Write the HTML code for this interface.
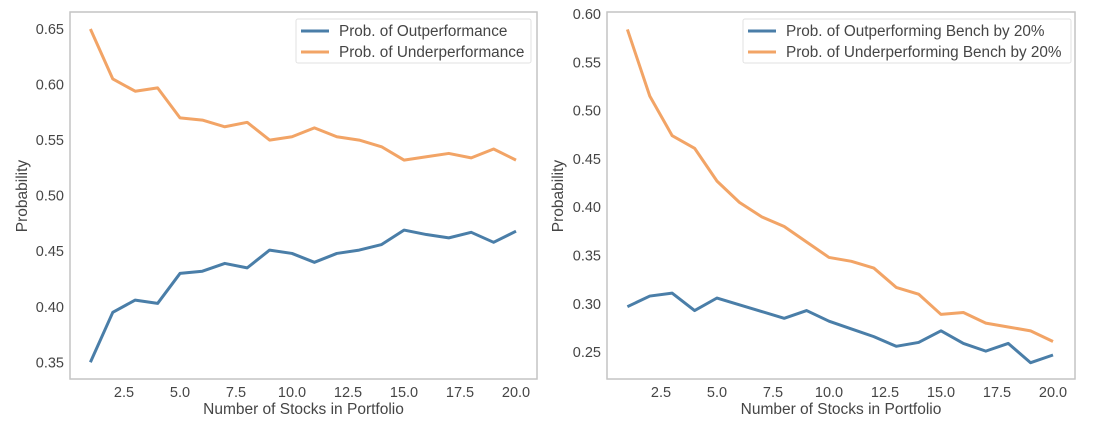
<!DOCTYPE html>
<html><head><meta charset="utf-8"><style>
body{margin:0;background:#fff;}
svg{display:block;font-family:"Liberation Sans","DejaVu Sans",sans-serif;}
</style></head><body>
<svg id="svg" width="1107" height="439"></svg>
<script>
const xs=[1,2,3,4,5,6,7,8,9,10,11,12,13,14,15,16,17,18,19,20];
const leftOut=[.350,.395,.406,.403,.430,.432,.439,.435,.451,.448,.440,.448,.451,.456,.469,.465,.462,.467,.458,.468];
const leftUnder=[.650,.605,.594,.597,.570,.568,.562,.566,.550,.553,.561,.553,.550,.544,.532,.535,.538,.534,.542,.532];
const rightOut=[.297,.308,.311,.293,.306,.299,.292,.285,.293,.282,.274,.266,.256,.260,.272,.259,.251,.259,.239,.247];
const rightUnder=[.584,.515,.474,.461,.427,.405,.390,.380,.364,.348,.344,.337,.317,.310,.289,.291,.280,.276,.272,.261];
const xTicks=[2.5,5.0,7.5,10.0,12.5,15.0,17.5,20.0];
const leftYTicks=[0.35,0.40,0.45,0.50,0.55,0.60,0.65];
const rightYTicks=[0.25,0.30,0.35,0.40,0.45,0.50,0.55,0.60];
const leftLegend=["Prob. of Outperformance","Prob. of Underperformance"];
const rightLegend=["Prob. of Outperforming Bench by 20%","Prob. of Underperforming Bench by 20%"];
const svg=document.getElementById('svg');
const NS='http://www.w3.org/2000/svg';
function mk(tag,attrs,parent){const e=document.createElementNS(NS,tag);for(const k in attrs)e.setAttribute(k,attrs[k]);(parent||svg).appendChild(e);return e;}
const BLUE='#4a7ea8',ORANGE='#f2a466',TXT='#454545';
function panel(p){
  const g=mk('g',{});
  
  
  const X=v=>p.x0+(v-2.5)*p.xu;
  const Y=v=>p.y0+(p.yRef-v)*p.yu;
  const box=mk('rect',{x:p.l,y:12,width:p.r-p.l,height:367,fill:'none',stroke:'#c4c4c4','stroke-width':1.5},g);
  
  
  xTicks.forEach(t=>{
    const tx=mk('text',{x:X(t),y:397,'text-anchor':'middle','font-size':14.5,fill:TXT},g);
    tx.textContent=t.toFixed(1);
    
    
  });
  p.yTicks.forEach(t=>{
    const tx=mk('text',{x:p.l-6,y:Y(t)+5,'text-anchor':'end','font-size':14.5,fill:TXT},g);
    tx.textContent=t.toFixed(2);
    
    
  });
  const xl=mk('text',{x:(p.l+p.r)/2,y:414,'text-anchor':'middle','font-size':15.5,fill:TXT},g);
  xl.textContent='Number of Stocks in Portfolio';
  
  
  const yl=mk('text',{x:p.yl,y:196,'text-anchor':'middle','font-size':15.5,fill:TXT,transform:`rotate(-90 ${p.yl} 196)`},g);
  yl.textContent='Probability';
  
  
  [[p.out,BLUE,'outperformance-line'],[p.under,ORANGE,'underperformance-line']].forEach(([d,c,n])=>{
    const pl=mk('polyline',{points:xs.map((x,i)=>X(x)+','+Y(d[i])).join(' '),fill:'none',stroke:c,'stroke-width':3,'stroke-linejoin':'round'},g);
    
    
  });
  const lg=mk('g',{},g);
  
  
  mk('rect',{x:p.lgx,y:19,width:p.lgw,height:44,fill:'#fff',stroke:'#e2e2e2',rx:2},lg);
  p.legend.forEach((s,i)=>{
    const yy=31+i*21;
    mk('line',{x1:p.lgx+5,x2:p.lgx+33,y1:yy,y2:yy,stroke:i?ORANGE:BLUE,'stroke-width':3},lg);
    const t=mk('text',{x:p.lgx+43,y:yy+5,'font-size':15.3,fill:TXT},lg);
    t.textContent=s;
    
    
  });
}
panel({name:'left-chart',l:70,r:537,x0:124,xu:22.4,y0:29,yRef:0.65,yu:1111,yTicks:leftYTicks,out:leftOut,under:leftUnder,legend:leftLegend,lgx:296,lgw:235,yl:27});
panel({name:'right-chart',l:607,r:1075,x0:661,xu:22.4,y0:14,yRef:0.60,yu:966,yTicks:rightYTicks,out:rightOut,under:rightUnder,legend:rightLegend,lgx:743,lgw:328,yl:563});
</script>
</body></html>
